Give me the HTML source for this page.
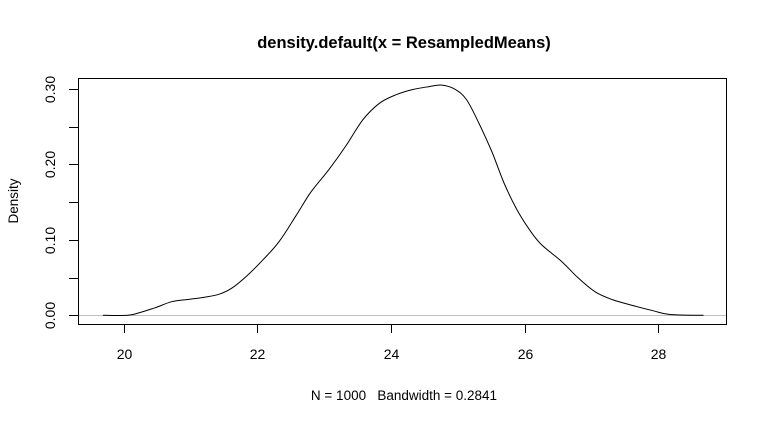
<!DOCTYPE html>
<html><head><meta charset="utf-8"><style>
body{margin:0;background:#fff}
svg text{font-family:"Liberation Sans",Arial,sans-serif;fill:#000;white-space:pre}
</style></head><body>
<svg width="768" height="422" viewBox="0 0 768 422">
<text x="404" y="48" font-size="16.5" font-weight="bold" text-anchor="middle">density.default(x = ResampledMeans)</text>
<text x="404" y="400" font-size="13.5" text-anchor="middle" xml:space="preserve">N = 1000   Bandwidth = 0.2841</text>
<text transform="translate(18,201) rotate(-90)" font-size="13.5" text-anchor="middle">Density</text>
<rect x="78.5" y="78.5" width="648" height="246" fill="none" stroke="#000"/>
<g id="xaxis"></g>
<g id="yaxis"></g>
<line x1="79" x2="726" y1="315.5" y2="315.5" stroke="#bebebe"/>
<path id="curve" fill="none" stroke="#000" stroke-width="1"/>
</svg>
<script>
const xs=[19.69,20.06,20.22,20.47,20.72,20.96,21.21,21.43,21.62,21.84,22.08,22.33,22.58,22.80,23.08,23.33,23.58,23.83,24.07,24.32,24.57,24.76,24.95,25.13,25.32,25.51,25.69,25.88,26.07,26.25,26.56,26.81,27.06,27.31,27.62,27.93,28.18,28.68];
const ys=[0,0,0.003,0.010,0.018,0.021,0.024,0.028,0.036,0.052,0.073,0.098,0.132,0.163,0.194,0.225,0.259,0.281,0.292,0.299,0.303,0.305,0.300,0.286,0.254,0.217,0.176,0.141,0.114,0.094,0.071,0.049,0.031,0.021,0.013,0.006,0.001,0];
const xTicks=[20,22,24,26,28];
const yTicks=[0,0.05,0.10,0.15,0.20,0.25,0.30];
const yLabels=["0.00","","0.10","","0.20","","0.30"];
const sx=v=>123.7+(v-20)*66.8;
const sy=v=>315.3-v*754.7;
const NS="http://www.w3.org/2000/svg";
function mk(t,a,p){const e=document.createElementNS(NS,t);for(const k in a)e.setAttribute(k,a[k]);p.appendChild(e);return e;}
const xa=document.getElementById('xaxis'),ya=document.getElementById('yaxis');
xTicks.forEach(t=>{const x=Math.round(sx(t))+0.5;
const l=mk('line',{x1:x,x2:x,y1:325,y2:333,stroke:'#000'},xa);


const tx=mk('text',{x:x,y:359,'font-size':14,'text-anchor':'middle'},xa);tx.textContent=t;

});
yTicks.forEach((t,i)=>{const y=Math.round(sy(t))+0.5;
const l=mk('line',{x1:69,x2:78,y1:y,y2:y,stroke:'#000'},ya);


if(yLabels[i]){const tx=mk('text',{transform:`translate(55,${y}) rotate(-90)`,'font-size':14,'text-anchor':'middle'},ya);tx.textContent=yLabels[i];

}});
// smooth curve (Catmull-Rom -> Bezier)
const P=xs.map((v,i)=>[sx(v),sy(ys[i])]);
let d='M'+P[0][0].toFixed(1)+','+P[0][1].toFixed(1);
for(let i=0;i<P.length-1;i++){const p0=P[Math.max(i-1,0)],p1=P[i],p2=P[i+1],p3=P[Math.min(i+2,P.length-1)];
const c1=[p1[0]+(p2[0]-p0[0])/6,p1[1]+(p2[1]-p0[1])/6],c2=[p2[0]-(p3[0]-p1[0])/6,p2[1]-(p3[1]-p1[1])/6];
d+=`C${c1[0].toFixed(1)},${c1[1].toFixed(1)} ${c2[0].toFixed(1)},${c2[1].toFixed(1)} ${p2[0].toFixed(1)},${p2[1].toFixed(1)}`;}
document.getElementById('curve').setAttribute('d',d);
</script>
</body></html>
